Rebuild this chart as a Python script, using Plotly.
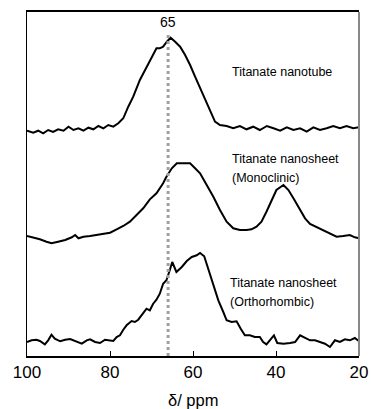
import plotly.graph_objects as go

# Chemical shift (ppm) and relative intensity
tube_ppm = [100.0, 98.5, 97.3, 96.1, 94.9, 93.7, 92.5, 91.2, 90.0, 88.8, 87.6, 86.4, 85.2, 84.0, 82.8, 81.6,
            80.4, 79.2, 78.0, 76.8, 75.6, 74.4, 72.8, 71.2, 69.6, 68.8, 68.0, 67.2, 66.3, 65.4, 64.3, 63.1,
            61.9, 60.7, 59.5, 58.3, 57.1, 55.9, 54.7, 53.5, 51.9, 50.3, 48.7, 47.1, 45.5, 43.9, 42.2, 40.6,
            39.0, 37.4, 35.8, 34.2, 32.6, 31.0, 29.4, 27.8, 26.2, 24.6, 23.0, 21.4, 20.0]
tube_int = [-0.7, -2.7, -0.7, -3.3, 0, -2, 0.7, -0.7, 3.3, 0, 1.7, -0.7, 2.3, 0.7, 4, 1.7,
            5, 3.3, 6.7, 11.7, 23.3, 33.3, 50, 63.3, 76.7, 81.7, 81.7, 83.3, 88.3, 92.3, 88.3, 83.3,
            75, 65, 53.3, 41.7, 30, 18.3, 8.3, 5, 4, 1.7, 4, 0.7, 3.3, 0, 4, 1.7,
            -0.7, 2.7, 0, 1.7, -1.7, 2.7, 0, 1.7, 4, 1.7, 4, 1.7, 2.7]

mono_ppm = [100.0, 98.5, 96.9, 95.3, 94.1, 92.5, 90.8, 89.2, 88.4, 87.6, 86.4, 84.8, 83.2, 81.6, 80.0, 78.4,
            76.8, 75.2, 73.6, 72.0, 70.4, 68.8, 67.2, 66.4, 65.1, 63.9, 62.3, 60.7, 59.5, 58.3, 56.7, 55.1,
            53.5, 51.9, 50.3, 48.7, 47.1, 45.9, 44.7, 43.5, 42.3, 41.1, 39.9, 38.2, 37.0, 35.8, 34.2, 33.0,
            31.8, 30.2, 28.6, 27.0, 25.4, 23.8, 22.2, 21.0, 20.0]
mono_int = [4, 2.7, 0.7, -1.7, -3.3, -1.7, 0, 2.7, 5, 1.7, 3.3, 4, 5, 6, 7.3, 10.7,
            14, 18.3, 25, 31.7, 40.7, 46.7, 56.7, 63.3, 71.7, 76.7, 76.7, 76.7, 71.7, 66.7, 55, 43.3,
            30, 18.3, 11.7, 10, 10, 10.7, 13.3, 18.3, 28.3, 40, 50, 55, 50, 41.7, 30, 21.7,
            16, 12.7, 10, 6.7, 3.3, 4, 5, 2.7, 1.7]

ortho_ppm = [100.0, 98.9, 97.7, 96.9, 95.7, 94.9, 94.1, 93.3, 92.0, 90.8, 89.6, 88.4, 86.8, 85.6, 84.8, 83.6,
             82.4, 81.2, 80.0, 79.2, 78.4, 77.6, 76.8, 76.0, 74.8, 74.0, 73.2, 72.0, 71.2, 70.4, 69.6, 68.8,
             68.0, 67.2, 66.4, 65.6, 65.0, 64.0, 62.7, 61.5, 60.3, 59.1, 58.3, 57.3, 56.3, 55.1, 53.9, 52.7,
             51.9, 50.7, 49.5, 48.5, 47.5, 46.3, 45.1, 43.9, 43.1, 42.3, 41.5, 40.5, 39.7, 38.2, 36.6, 35.4,
             34.2, 33.0, 31.8, 30.6, 29.4, 28.2, 27.0, 25.8, 24.6, 23.4, 22.2, 21.0, 20.0]
ortho_int = [0, 1.7, 2.3, 1, -2.3, 1.7, 7.3, 3.3, 0.7, 2.3, 3, 1, -1.7, 1.7, 2.7, 0,
             -1, 2.3, 1.7, 1, 5, 6.7, 12.3, 16.7, 21, 20, 22.3, 28.3, 33.3, 31.7, 38.3, 42.3,
             48.3, 58.3, 61.7, 71.7, 80, 70, 75, 81, 85, 86.7, 89, 85.7, 73.3, 58.3, 41.7, 30,
             21.7, 20, 20.7, 13.3, 6.7, 6.7, 5, 5, 0, -2.3, 1.7, 6.7, -1, -1.7, -1, 0,
             6.7, 4, 1.7, 1.7, -0.3, -1.7, -5, 1.7, 0, 2.7, 1.7, 4, 0.7]

offsets = {"tube": 226, "mono": 116, "ortho": 14}
labels = {"tube": ["Titanate nanotube"],
          "mono": ["Titanate nanosheet", "(Monoclinic)"],
          "ortho": ["Titanate nanosheet", "(Orthorhombic)"]}
ref_ppm = 66
ref_label = "65"
x_ticks = [100, 80, 60, 40, 20]
x_title = "δ/ ppm"

FONT = "Arial, Liberation Sans, sans-serif"
fig = go.Figure()
for ppm, inten, key in [(tube_ppm, tube_int, "tube"), (mono_ppm, mono_int, "mono"), (ortho_ppm, ortho_int, "ortho")]:
    fig.add_trace(go.Scatter(x=ppm, y=[v + offsets[key] for v in inten], mode="lines",
                             line=dict(color="black", width=2), showlegend=False, hoverinfo="skip"))

# reference dotted line
fig.add_trace(go.Scatter(x=[ref_ppm, ref_ppm], y=[0, 321], mode="lines",
                         line=dict(color="#a0a0a0", width=3, dash="dot"), showlegend=False, hoverinfo="skip"))

fig.add_annotation(x=ref_ppm, y=334, text=ref_label, showarrow=False, xanchor="center", yanchor="middle",
                   font=dict(family=FONT, size=14, color="black"))

ann = [("tube", 51.1, [284]), ("mono", 51.1, [197, 178]), ("ortho", 51.5, [73, 54])]
for key, x, ys in ann:
    for t, y in zip(labels[key], ys):
        fig.add_annotation(x=x, y=y, text=t, showarrow=False, xanchor="left", yanchor="middle",
                           font=dict(family=FONT, size=12.5, color="black"))

# axis title
fig.add_annotation(xref="paper", yref="paper", x=0.5, y=-0.127, text=x_title, showarrow=False,
                   xanchor="center", yanchor="middle", font=dict(family=FONT, size=16.5, color="black"))

fig.add_shape(type="line", xref="paper", yref="paper", x0=1, x1=1, y0=0, y1=1,
              line=dict(color="#888888", width=2))

fig.update_layout(
    width=371, height=409, margin=dict(l=27, r=12, t=12, b=53, autoexpand=False),
    paper_bgcolor="white", plot_bgcolor="white",
    font=dict(family=FONT, color="black"),
    xaxis=dict(range=[100, 20], tickvals=x_ticks, ticks="inside", ticklen=5, tickcolor="black",
               showline=True, linecolor="black", linewidth=1.5, mirror=True, showgrid=False, zeroline=False,
               tickfont=dict(size=17, color="black"), automargin=False),
    yaxis=dict(range=[0, 344], showticklabels=False, ticks="", showline=True, linecolor="black",
               linewidth=1, mirror=False, showgrid=False, zeroline=False, automargin=False),
)
fig.write_html("out.html")
